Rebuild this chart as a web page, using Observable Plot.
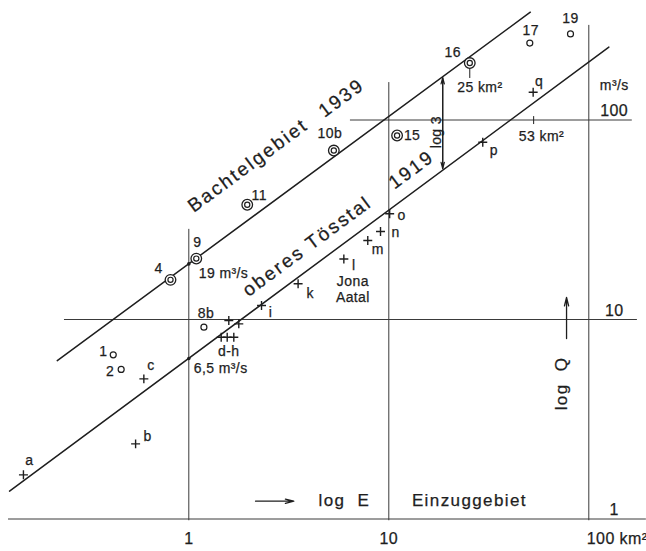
<!DOCTYPE html>
<html><head><meta charset="utf-8">
<script src="https://cdn.jsdelivr.net/npm/d3@7"></script>
<script src="https://cdn.jsdelivr.net/npm/@observablehq/plot@0.6"></script>
<style>html,body{margin:0;padding:0;background:#fff;overflow:hidden}</style>
</head><body><div id="chart"></div>
<script>
// ---- data (E = Einzuggebiet km², Q = m³/s) ----
const circ2Labels = ["4", "9", "11", "10b", "15", "16"];
const circ2E = [0.81, 1.09, 1.96, 5.31, 11.0, 25.4];
const circ2Q = [15.8, 20.2, 37.6, 70.3, 83.6, 193];

const circ1Labels = ["1", "2", "8b", "17", "19"];
const circ1E = [0.419, 0.459, 1.19, 50.7, 81];
const circ1Q = [6.65, 5.62, 9.15, 243, 270];

const plusLabels = ["a", "b", "c", "d", "e", "f", "g", "h", "i", "k", "l", "m", "n", "o", "p", "q"];
const plusE = [0.149, 0.542, 0.596, 1.452, 1.556, 1.679, 1.585, 1.778, 2.31, 3.52, 5.96, 7.85, 9.09, 10.1, 29.5, 52.7];
const plusQ = [1.665, 2.38, 5.04, 8.15, 8.15, 8.15, 9.88, 9.51, 11.75, 15.1, 20.1, 24.9, 27.6, 33.9, 77.4, 137.8];
const plusShown = ["a", "b", "c", "i", "k", "l", "m", "n", "o", "p", "q"];

// regression lines (end points)
const line1939E = [0.22, 51];
const line1939Q = [6.22, 347];
const line1919E = [0.127, 126];
const line1919Q = [1.38, 232];
const lineMarkE = [1, 1];
const lineMarkQ = [19.0, 6.37];

// grid
const gridE = [1, 10, 100];
const gridTopQ = [28.3, 154, 298];
const gridBottomQ = 0.98;
const gridQ = [1, 10, 100];
const gridStartE = [0.1255, 0.239, 6.43];
const gridEndE = [194, 175, 165];

// short marker ticks
const stemE = [25.4, 53];
const stemQ1 = [161.5, 94.9];
const stemQ2 = [181, 104];

// annotation arrows
const log3E = 18.6, log3Q = [57.1, 163];
const logEArrowE = [2.156, 3.35], logEArrowQ = 1.228;
const logQArrowE = 77.4, logQArrowQ = [8.03, 12.9];

// tick labels
const xTickValues = [1, 10, 100];
const xTickText = ["1", "10", "100 km²"];
const yTickValues = [1, 10, 100];
const yTickText = ["1", "10", "100"];

// big labels
const bigText = ["Bachtelgebiet", "1939", "oberes Tösstal", "1919"];
const bigE = [1.977, 5.80, 3.91, 12.96];
const bigQ = [59.2, 128.9, 23.3, 56.3];

// notes
const noteStartText = ["19 m³/s", "6,5 m³/s", "25 km²", "53 km²"];
const noteStartE = [1.122, 1.059, 22.0, 44.7];
const noteStartQ = [17.0, 5.68, 145, 82.7];
const noteMidText = ["d-h", "Jona", "Aatal", "m³/s", "Einzuggebiet"];
const noteMidE = [1.585, 6.61, 6.61, 134, 25.3];
const noteMidQ = [6.94, 15.56, 12.85, 148.9, 1.238];

// ---- styles / label offsets ----
const ink = "#1e1e1e";
const labelOffset = {
  "4": [-12, -11], "9": [1, -16], "11": [12, -9], "10b": [-4, -17], "15": [15, 0], "16": [-17, -11],
  "1": [-10, -3], "2": [-11, 2], "8b": [2, -14], "17": [1, -13], "19": [0, -15],
  "a": [6, -14], "b": [12, -7], "c": [7, -13], "i": [9, 7], "k": [12, 10], "l": [10, 7],
  "m": [10, 9], "n": [15, 1], "o": [12, 2], "p": [11, 8], "q": [6, -11]
};

const zip = (labels, E, Q) => labels.map((label, i) => ({label, E: E[i], Q: Q[i]}));
const circ2 = zip(circ2Labels, circ2E, circ2Q);
const circ1 = zip(circ1Labels, circ1E, circ1Q);
const plus = zip(plusLabels, plusE, plusQ);
const allPts = [...circ2, ...circ1, ...plus.filter(d => plusShown.includes(d.label))];

const labelMarks = allPts.map(d => Plot.text([d], {
  x: "E", y: "Q", text: "label", fontSize: 14, fill: ink, ariaDescription: "small",
  dx: labelOffset[d.label][0], dy: labelOffset[d.label][1]
}));

const lines = [
  {series: "1939", pts: zip(["a", "b"], line1939E, line1939Q)},
  {series: "1919", pts: zip(["a", "b"], line1919E, line1919Q)}
];

const plot = Plot.plot({
  width: 646, height: 551, margin: 0,
  x: {type: "log", domain: [1, 100], range: [188.3, 588.3], axis: null},
  y: {type: "log", domain: [1, 100], range: [518.5, 119.5], axis: null},
  style: {fontFamily: "'Liberation Sans', Arial, sans-serif", background: "#fff", color: ink, overflow: "visible"},
  marks: [
    // grid
    Plot.ruleX(gridE.map((E, i) => ({E, top: gridTopQ[i]})), {x: "E", y1: gridBottomQ, y2: "top", stroke: "#3a3a3a", strokeWidth: 1}),
    Plot.ruleY(gridQ.map((Q, i) => ({Q, a: gridStartE[i], b: gridEndE[i]})), {y: "Q", x1: "a", x2: "b", stroke: "#3a3a3a", strokeWidth: 1}),
    // regression lines
    ...lines.map(l => Plot.line(l.pts, {x: "E", y: "Q", stroke: ink, strokeWidth: 1.5})),
    Plot.dot(zip(["x", "y"], lineMarkE, lineMarkQ), {x: "E", y: "Q", r: 1.8, fill: ink}),
    // short stems
    Plot.ruleX(stemE.map((E, i) => ({E, a: stemQ1[i], b: stemQ2[i]})), {x: "E", y1: "a", y2: "b", stroke: ink, strokeWidth: 1}),
    // points
    Plot.dot(circ2, {x: "E", y: "Q", r: 5.3, stroke: ink, strokeWidth: 1.3, fill: "white"}),
    Plot.dot(circ2, {x: "E", y: "Q", r: 2.6, stroke: ink, strokeWidth: 1.2, fill: "none"}),
    Plot.dot(circ1, {x: "E", y: "Q", r: 3, stroke: ink, strokeWidth: 1.2, fill: "white"}),
    Plot.dot(plus, {x: "E", y: "Q", symbol: "plus", r: 3, stroke: ink, strokeWidth: 1.4}),
    // point labels
    ...labelMarks,
    // log 3 double arrow
    Plot.arrow([{E: log3E, a: log3Q[0], b: log3Q[1]}], {x1: "E", x2: "E", y1: "a", y2: "b", stroke: ink, strokeWidth: 1.2, headLength: 8, headAngle: 30}),
    Plot.arrow([{E: log3E, a: log3Q[1], b: log3Q[0]}], {x1: "E", x2: "E", y1: "a", y2: "b", stroke: ink, strokeWidth: 1.2, headLength: 8, headAngle: 30}),
    Plot.text([{E: 17.3, Q: 86.9}], {x: "E", y: "Q", text: () => "log 3", rotate: -90, fontSize: 14, fill: ink, ariaDescription: "small"}),
    // log E / log Q arrows
    Plot.arrow([{a: logEArrowE[0], b: logEArrowE[1], Q: logEArrowQ}], {x1: "a", x2: "b", y1: "Q", y2: "Q", stroke: ink, strokeWidth: 1.3, headLength: 10, headAngle: 28}),
    Plot.arrow([{E: logQArrowE, a: logQArrowQ[0], b: logQArrowQ[1]}], {x1: "E", x2: "E", y1: "a", y2: "b", stroke: ink, strokeWidth: 1.3, headLength: 10, headAngle: 28}),
    Plot.text([{E: 4.45, Q: 1.238}], {x: "E", y: "Q", text: () => "log\u00a0\u00a0E", textAnchor: "start", fontSize: 17, fill: ink, ariaDescription: "wide"}),
    Plot.text([{E: 73.0, Q: 4.78}], {x: "E", y: "Q", text: () => "log\u00a0\u00a0Q", rotate: -90, fontSize: 17, fill: ink, ariaDescription: "wide"}),
    // big rotated labels
    Plot.text(zip(bigText, bigE, bigQ), {x: "E", y: "Q", text: "label", rotate: -36.4, fontSize: 19, fill: ink, ariaDescription: "big"}),
    // notes
    Plot.text(zip(noteStartText, noteStartE, noteStartQ), {x: "E", y: "Q", text: "label", textAnchor: "start", fontSize: 14, fill: ink, ariaDescription: "small"}),
    Plot.text(zip(noteMidText.slice(0, 4), noteMidE.slice(0, 4), noteMidQ.slice(0, 4)), {x: "E", y: "Q", text: "label", fontSize: 14, fill: ink, ariaDescription: "small"}),
    Plot.text(zip(noteMidText.slice(4), noteMidE.slice(4), noteMidQ.slice(4)), {x: "E", y: "Q", text: "label", fontSize: 17, fill: ink, ariaDescription: "wide"}),
    // tick labels
    Plot.text(xTickValues.slice(0, 2).map((E, i) => ({E, t: xTickText[i]})), {x: "E", y: 0.798, text: "t", fontSize: 16, fill: ink, ariaDescription: "small"}),
    Plot.text([{E: xTickValues[2], t: xTickText[2]}], {x: "E", y: 0.798, text: "t", textAnchor: "start", dx: -2, fontSize: 16, fill: ink, ariaDescription: "small"}),
    Plot.text(yTickValues.map((Q, i) => ({Q, t: yTickText[i]})), {x: 134, y: "Q", text: "t", dy: -9, fontSize: 16, fill: ink, ariaDescription: "small"})
  ]
});

const sel = d3.select(plot);
sel.selectAll('g[aria-description="big"] text').style("letter-spacing", "2.2px");
sel.selectAll('g[aria-description="wide"] text').style("letter-spacing", "1.4px");
sel.selectAll('g[aria-description="small"] text').style("letter-spacing", "0.4px");
sel.selectAll("text").attr("stroke", ink).attr("stroke-width", 0.25);
document.getElementById("chart").appendChild(plot);
</script>
</body></html>
